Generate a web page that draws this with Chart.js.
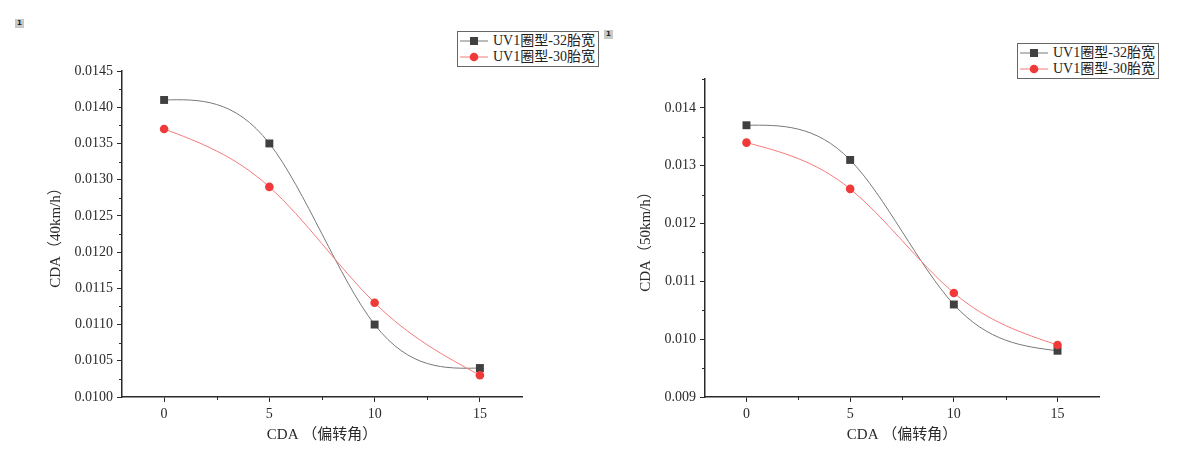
<!DOCTYPE html>
<html>
<head>
<meta charset="utf-8">
<script src="https://cdn.jsdelivr.net/npm/chart.js@4/dist/chart.umd.min.js"></script>
<style>
  body { margin: 0; background: #fff; width: 1188px; height: 460px; position: relative; overflow: hidden; }
  canvas { position: absolute; top: 0; }
  #chart40 { left: 0; }
  #chart50 { left: 594px; }
  .mark { position: absolute; background: #c8c8c8; color: #222; font: bold 7px "DejaVu Sans", sans-serif;
          text-align: center; line-height: 9px; width: 9px; height: 9px; }
  .legend { position: absolute; border: 1px solid #666; background: #fff; padding: 1px 3px 1px 1px;
            font: 14px "Liberation Serif", "Noto Sans CJK SC", serif; color: #222; }
  .legend div { height: 16px; line-height: 16px; white-space: nowrap; }
  .legend svg { vertical-align: middle; margin-right: 4px; position: relative; top: -1px; }
</style>
</head>
<body>
<div class="mark" style="left:15px;top:19px;">1</div>
<div class="mark" style="left:604px;top:30px;">1</div>

<canvas id="chart40" width="594" height="460"></canvas>
<canvas id="chart50" width="594" height="460"></canvas>

<div class="legend" id="legend40" style="left:457px;top:31px;"></div>
<div class="legend" id="legend50" style="left:1017px;top:43px;"></div>

<script>
// Data
const angles = [0, 5, 10, 15];
const seriesNames = ["UV1圈型-32胎宽", "UV1圈型-30胎宽"];
const cda40_32 = [0.0141, 0.0135, 0.0110, 0.0104];
const cda40_30 = [0.0137, 0.0129, 0.0113, 0.0103];
const cda50_32 = [0.0137, 0.0131, 0.0106, 0.0098];
const cda50_30 = [0.0134, 0.0126, 0.0108, 0.0099];

// Tick labels
const xTicks = [0, 5, 10, 15];
const xMinorTicks = [2.5, 7.5, 12.5];
const yTicks40 = [0.0100, 0.0105, 0.0110, 0.0115, 0.0120, 0.0125, 0.0130, 0.0135, 0.0140, 0.0145];
const yMinorTicks40 = [0.01025, 0.01075, 0.01125, 0.01175, 0.01225, 0.01275, 0.01325, 0.01375, 0.01425];
const yTicks50 = [0.009, 0.010, 0.011, 0.012, 0.013, 0.014];
const yMinorTicks50 = [0.0095, 0.0105, 0.0115, 0.0125, 0.0135, 0.0145];

const xTitle = "CDA （偏转角）";
const yTitle40 = "CDA（40km/h）";
const yTitle50 = "CDA（50km/h）";

const blackColor = "#404040";
const redColor = "#f03a3a";
const blackLine = "#787878";
const redLine = "#f77a7a";
const textFont = "'Liberation Serif', 'Noto Sans CJK SC', serif";
const axisColor = "#2a2a2a";

// Natural cubic spline through the points (what the original plot uses)
const naturalSpline = {
  id: "naturalSpline",
  beforeDatasetsDraw(chart) {
    chart.getSortedVisibleDatasetMetas().forEach(meta => {
      const pts = meta.data;
      const n = pts.length;
      if (n < 3) return;
      const h = [], d = [];
      for (let i = 0; i < n - 1; i++) {
        h.push(pts[i + 1].x - pts[i].x);
        d.push((pts[i + 1].y - pts[i].y) / h[i]);
      }
      // solve for second derivatives, M0 = Mn-1 = 0
      const M = new Array(n).fill(0);
      const a = [], b = [], c = [], r = [];
      for (let i = 1; i < n - 1; i++) {
        a.push(h[i - 1]); b.push(2 * (h[i - 1] + h[i])); c.push(h[i]);
        r.push(6 * (d[i] - d[i - 1]));
      }
      const m = b.length;
      for (let i = 1; i < m; i++) {
        const w = a[i] / b[i - 1];
        b[i] -= w * c[i - 1];
        r[i] -= w * r[i - 1];
      }
      const sol = new Array(m);
      sol[m - 1] = r[m - 1] / b[m - 1];
      for (let i = m - 2; i >= 0; i--) sol[i] = (r[i] - c[i] * sol[i + 1]) / b[i];
      for (let i = 0; i < m; i++) M[i + 1] = sol[i];

      for (let i = 0; i < n - 1; i++) {
        const s0 = d[i] - h[i] * (2 * M[i] + M[i + 1]) / 6;
        const s1 = d[i] + h[i] * (M[i] + 2 * M[i + 1]) / 6;
        pts[i].cp2x = pts[i].x + h[i] / 3;
        pts[i].cp2y = pts[i].y + s0 * h[i] / 3;
        pts[i + 1].cp1x = pts[i + 1].x - h[i] / 3;
        pts[i + 1].cp1y = pts[i + 1].y - s1 * h[i] / 3;
      }
      pts[0].cp1x = pts[0].x; pts[0].cp1y = pts[0].y;
      pts[n - 1].cp2x = pts[n - 1].x; pts[n - 1].cp2y = pts[n - 1].y;
      meta.dataset._pointsUpdated = true;
    });
  }
};

// Minor tick marks
const minorTicks = {
  id: "minorTicks",
  afterDraw(chart, args, opts) {
    const ctx = chart.ctx;
    const xs = chart.scales.x, ys = chart.scales.y;
    ctx.save();
    ctx.strokeStyle = axisColor;
    ctx.lineWidth = 1;
    ctx.beginPath();
    opts.x.forEach(v => {
      const px = Math.round(xs.getPixelForValue(v)) + 0.5;
      ctx.moveTo(px, xs.top);
      ctx.lineTo(px, xs.top + 3);
    });
    opts.y.forEach(v => {
      const py = Math.round(ys.getPixelForValue(v)) + 0.5;
      ctx.moveTo(ys.right, py);
      ctx.lineTo(ys.right - 3, py);
    });
    ctx.stroke();
    ctx.restore();
  }
};

function makeChart(canvasId, s32, s30, yMajor, yMinor, yTitle, digits, layout) {
  const ctx = document.getElementById(canvasId).getContext("2d");
  return new Chart(ctx, {
    type: "line",
    data: {
      datasets: [
        {
          label: seriesNames[0],
          data: angles.map((a, i) => ({ x: a, y: s32[i] })),
          borderColor: blackLine,
          borderWidth: 1,
          backgroundColor: blackColor,
          pointStyle: "rect",
          pointRadius: 5.6,
          pointBackgroundColor: blackColor,
          pointBorderColor: blackColor,
          pointBorderWidth: 0,
          tension: 0.4,
          order: 1
        },
        {
          label: seriesNames[1],
          data: angles.map((a, i) => ({ x: a, y: s30[i] })),
          borderColor: redLine,
          borderWidth: 1,
          backgroundColor: redColor,
          pointStyle: "circle",
          pointRadius: 4.3,
          pointBackgroundColor: redColor,
          pointBorderColor: redColor,
          pointBorderWidth: 0,
          tension: 0.4,
          order: 0
        }
      ]
    },
    options: {
      responsive: false,
      animation: false,
      events: [],
      layout: { padding: layout.padding },
      plugins: {
        legend: { display: false },
        tooltip: { enabled: false },
        minorTicks: { x: xMinorTicks, y: yMinor }
      },
      scales: {
        x: {
          type: "linear",
          min: -2,
          max: 17,
          afterBuildTicks: scale => { scale.ticks = xTicks.map(v => ({ value: v })); },
          afterFit: scale => { scale.height = 51; },
          grid: { drawOnChartArea: false, drawTicks: true, tickLength: 5, tickColor: axisColor, tickWidth: 1 },
          border: { display: true, color: axisColor, width: 1.5 },
          ticks: {
            padding: 4,
            color: "#2a2a2a",
            font: { family: textFont, size: 14 },
            callback: v => String(v)
          },
          title: {
            display: true,
            text: xTitle,
            color: "#2a2a2a",
            font: { family: textFont, size: 15 },
            padding: { top: 0, bottom: 4 }
          }
        },
        y: {
          type: "linear",
          min: yMajor[0],
          max: 0.0145,
          afterBuildTicks: scale => { scale.ticks = yMajor.map(v => ({ value: v })); },
          afterFit: scale => { scale.width = layout.yWidth; },
          grid: { drawOnChartArea: false, drawTicks: true, tickLength: 5, tickColor: axisColor, tickWidth: 1 },
          border: { display: true, color: axisColor, width: 1.5 },
          ticks: {
            padding: 4,
            color: "#2a2a2a",
            font: { family: textFont, size: 14 },
            callback: v => Number(v).toFixed(digits)
          },
          title: {
            display: true,
            text: yTitle,
            color: "#2a2a2a",
            font: { family: textFont, size: 15 },
            padding: { top: 4, bottom: 0 }
          }
        }
      }
    },
    plugins: [naturalSpline, minorTicks]
  });
}

// Init charts
const chart40 = makeChart("chart40", cda40_32, cda40_30, yTicks40, yMinorTicks40, yTitle40, 4,
  { padding: { left: 43, top: 71, right: 72, bottom: 12 }, yWidth: 79 });
const chart50 = makeChart("chart50", cda50_32, cda50_30, yTicks50, yMinorTicks50, yTitle50, 3,
  { padding: { left: 39, top: 79, right: 89, bottom: 12 }, yWidth: 72 });

// Legends
function buildLegend(id) {
  const box = document.getElementById(id);
  const marks = [
    `<line x1="1" y1="5" x2="29" y2="5" stroke="${blackLine}" stroke-width="1"/><rect x="11" y="1" width="8" height="8" fill="${blackColor}"/>`,
    `<line x1="1" y1="5" x2="29" y2="5" stroke="${redLine}" stroke-width="1"/><circle cx="15" cy="5" r="4.3" fill="${redColor}"/>`
  ];
  seriesNames.forEach((name, i) => {
    const row = document.createElement("div");
    row.innerHTML = `<svg width="30" height="10">${marks[i]}</svg>${name}`;
    box.appendChild(row);
  });
}
buildLegend("legend40");
buildLegend("legend50");
</script>
</body>
</html>
